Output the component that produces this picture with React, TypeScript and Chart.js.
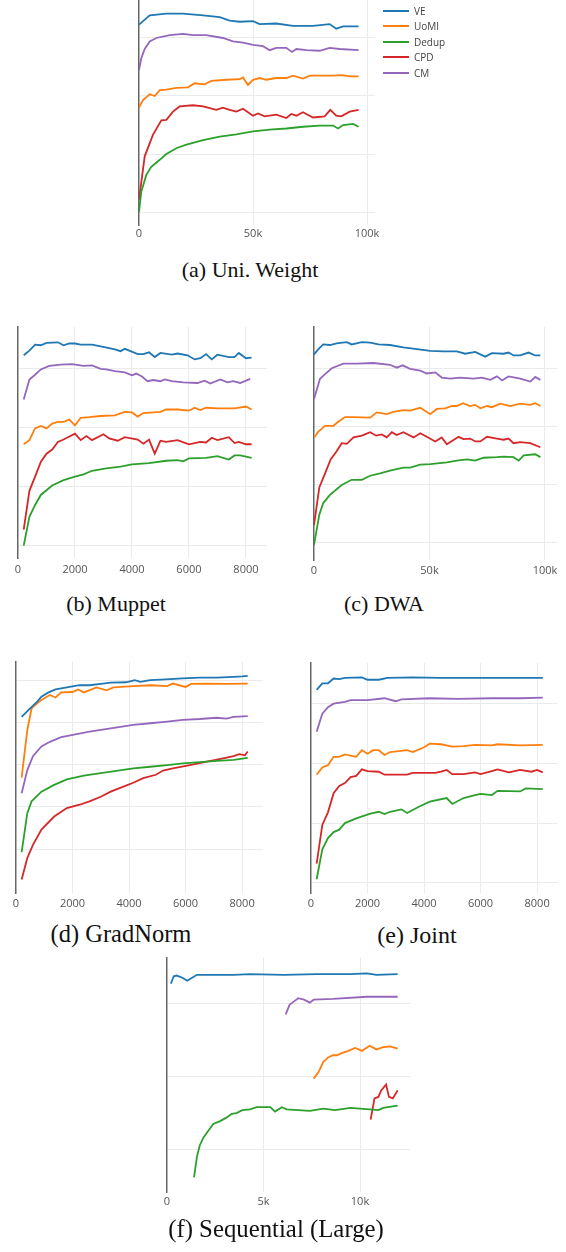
import React, { useEffect, useRef } from "react";
import { Chart, registerables } from "chart.js";

Chart.register(...registerables);

type Pt = [number, number];

const SERIES = ["VE", "UoMI", "Dedup", "CPD", "CM"];
const COLORS = ["#1f77b4", "#ff7f0e", "#2ca02c", "#d62728", "#9467bd"];

// ---------- (a) Uni. Weight ----------
const A_VE: Pt[] = [[0,3.23],[4700,3.39],[12000,3.42],[19300,3.42],[28100,3.39],[35400,3.36],[39800,3.30],[44200,3.28],[50000,3.29],[52900,3.24],[60200,3.25],[67500,3.21],[76300,3.21],[83600,3.24],[86500,3.16],[89500,3.20],[96300,3.20]];
const A_UOMI: Pt[] = [[0,1.80],[1750,1.93],[4700,2.03],[6900,2.00],[9100,2.10],[12000,2.11],[16400,2.14],[21500,2.15],[24400,2.22],[28800,2.20],[31700,2.26],[38300,2.28],[44200,2.29],[45600,2.32],[47800,2.19],[50000,2.28],[52900,2.31],[55800,2.28],[60200,2.31],[64600,2.31],[67500,2.35],[71900,2.30],[74900,2.35],[85100,2.35],[89000,2.36],[92400,2.34],[96300,2.34]];
const A_DEDUP: Pt[] = [[0,0.0],[1000,0.35],[3200,0.64],[5400,0.78],[9100,0.90],[12000,1.0],[16400,1.10],[20800,1.16],[28100,1.24],[35400,1.30],[42700,1.34],[50000,1.39],[57300,1.42],[64600,1.44],[71900,1.47],[79200,1.49],[85100,1.49],[87300,1.44],[89500,1.50],[93900,1.52],[96300,1.47]];
const A_CPD: Pt[] = [[0,0.21],[2500,0.96],[6100,1.33],[9800,1.58],[12000,1.59],[14900,1.73],[17800,1.82],[23700,1.84],[28100,1.82],[33900,1.76],[36800,1.80],[39800,1.76],[42700,1.73],[45600,1.78],[50000,1.66],[52200,1.70],[55100,1.65],[60200,1.68],[64600,1.62],[66800,1.69],[69000,1.66],[71900,1.72],[76300,1.63],[81400,1.65],[83900,1.76],[86500,1.66],[88700,1.65],[92400,1.73],[96300,1.76]];
const A_CM: Pt[] = [[0,2.45],[1000,2.65],[2500,2.81],[4700,2.94],[7600,3.00],[13500,3.05],[19300,3.07],[23700,3.05],[29500,3.05],[36800,3.00],[41200,2.94],[45600,2.92],[50000,2.88],[54400,2.86],[57300,2.79],[60200,2.83],[64600,2.83],[67100,2.76],[69000,2.81],[73400,2.79],[79200,2.78],[83600,2.83],[88000,2.81],[96300,2.79]];

// ---------- (b) Muppet ----------
const B_VE: Pt[] = [[200,3.23],[400,3.31],[600,3.41],[800,3.40],[1000,3.44],[1400,3.45],[1600,3.40],[1800,3.43],[2000,3.43],[2200,3.41],[2600,3.41],[2900,3.38],[3200,3.35],[3400,3.33],[3600,3.30],[3750,3.34],[3950,3.30],[4200,3.25],[4400,3.25],[4600,3.28],[4800,3.20],[5000,3.27],[5400,3.24],[5600,3.26],[5950,3.23],[6200,3.16],[6400,3.18],[6600,3.25],[6800,3.16],[7000,3.24],[7400,3.20],[7600,3.20],[7750,3.27],[8000,3.18],[8200,3.19]];
const B_UOMI: Pt[] = [[200,1.72],[400,1.79],[600,1.99],[800,2.03],[1000,1.99],[1200,2.07],[1400,2.10],[1600,2.10],[1800,2.14],[2000,2.04],[2200,2.17],[2500,2.18],[2900,2.20],[3400,2.21],[3750,2.27],[4000,2.26],[4200,2.19],[4400,2.25],[5000,2.27],[5200,2.31],[5600,2.31],[6000,2.29],[6200,2.34],[6400,2.30],[6600,2.34],[7000,2.33],[7600,2.33],[8000,2.36],[8200,2.31]];
const B_DEDUP: Pt[] = [[200,0.0],[400,0.49],[600,0.69],[800,0.86],[1200,1.02],[1600,1.11],[2000,1.17],[2300,1.21],[2600,1.27],[3100,1.31],[3600,1.34],[4000,1.38],[4600,1.40],[5200,1.44],[5600,1.45],[5800,1.43],[6000,1.48],[6600,1.49],[7000,1.52],[7400,1.46],[7600,1.53],[7800,1.53],[8200,1.49]];
const B_CPD: Pt[] = [[200,0.27],[400,0.93],[600,1.17],[800,1.42],[1000,1.56],[1200,1.63],[1400,1.76],[1600,1.80],[2000,1.90],[2200,1.79],[2400,1.86],[2600,1.79],[3000,1.89],[3200,1.82],[3500,1.78],[3750,1.84],[4200,1.80],[4400,1.73],[4600,1.80],[4800,1.56],[5000,1.78],[5200,1.76],[5600,1.79],[6000,1.72],[6400,1.76],[6600,1.75],[6800,1.83],[7000,1.79],[7400,1.84],[7600,1.74],[7750,1.76],[8000,1.72],[8200,1.72]];
const B_CM: Pt[] = [[200,2.48],[400,2.82],[600,2.90],[800,2.99],[1100,3.05],[1500,3.07],[1900,3.08],[2300,3.05],[2600,3.06],[2900,3.00],[3100,2.99],[3400,2.96],[3750,2.94],[4000,2.89],[4150,2.92],[4350,2.87],[4550,2.79],[4750,2.81],[5000,2.79],[5150,2.82],[5400,2.79],[5800,2.77],[6300,2.76],[6550,2.80],[6750,2.75],[7100,2.82],[7350,2.77],[7550,2.79],[7800,2.76],[8150,2.83]];

// ---------- (c) DWA ----------
const C_VE: Pt[] = [[0,3.24],[1900,3.33],[4000,3.41],[6900,3.40],[9800,3.43],[14200,3.45],[16300,3.41],[20700,3.45],[24300,3.44],[27900,3.41],[32900,3.40],[38700,3.36],[44500,3.33],[50300,3.30],[56100,3.29],[61800,3.29],[65500,3.25],[69800,3.28],[74100,3.20],[77000,3.26],[82100,3.25],[84200,3.27],[86400,3.22],[89300,3.22],[92900,3.27],[95800,3.22],[98000,3.22]];
const C_UOMI: Pt[] = [[0,1.81],[1900,1.91],[4800,2.01],[8400,2.01],[10500,2.08],[13400,2.16],[17100,2.16],[24300,2.15],[27200,2.24],[31500,2.21],[34400,2.25],[38700,2.28],[41600,2.27],[46000,2.32],[50300,2.21],[53200,2.30],[56800,2.31],[59700,2.35],[61800,2.35],[64500,2.40],[67600,2.35],[69800,2.37],[72000,2.31],[74900,2.35],[77000,2.33],[80600,2.39],[85000,2.35],[89300,2.39],[93600,2.37],[95800,2.40],[98000,2.35]];
const C_DEDUP: Pt[] = [[0,-0.04],[2300,0.48],[4000,0.68],[6900,0.82],[12000,0.99],[16300,1.08],[20700,1.08],[24300,1.15],[28600,1.19],[32900,1.24],[38700,1.29],[41600,1.29],[46000,1.34],[50300,1.35],[57500,1.38],[61800,1.41],[66200,1.43],[69800,1.41],[73400,1.46],[79200,1.47],[82100,1.48],[86400,1.47],[88600,1.41],[90800,1.50],[95800,1.52],[98000,1.47]];
const C_CPD: Pt[] = [[0,0.30],[2300,0.95],[4800,1.19],[7200,1.43],[9800,1.57],[12000,1.71],[14200,1.70],[17100,1.81],[20700,1.84],[24300,1.90],[26900,1.84],[29300,1.86],[31500,1.81],[33700,1.90],[35800,1.85],[38700,1.90],[43100,1.81],[46000,1.88],[48800,1.82],[52500,1.74],[55300,1.81],[57500,1.69],[62600,1.82],[64700,1.78],[67600,1.79],[69800,1.74],[72000,1.74],[74900,1.82],[79200,1.79],[82100,1.77],[84200,1.79],[86400,1.71],[89300,1.73],[93600,1.71],[98000,1.64]];
const C_CM: Pt[] = [[0,2.47],[2600,2.82],[4800,2.90],[7700,3.00],[12700,3.08],[18500,3.08],[25700,3.09],[32900,3.06],[35800,3.01],[38400,3.05],[41600,2.99],[46000,2.96],[48800,2.91],[52500,2.93],[55300,2.84],[59000,2.82],[63300,2.84],[69100,2.82],[72700,2.84],[76300,2.80],[79200,2.86],[81400,2.79],[84200,2.86],[89300,2.82],[93600,2.77],[95800,2.85],[98000,2.80]];

// ---------- (d) GradNorm ----------
const D_VE: Pt[] = [[200,3.13],[500,3.33],[750,3.49],[900,3.61],[1150,3.71],[1400,3.78],[1800,3.83],[2250,3.88],[2600,3.88],[3000,3.91],[3350,3.94],[3900,3.95],[4200,4.00],[4400,3.96],[4750,4.00],[5300,4.02],[5900,4.04],[6500,4.06],[7100,4.06],[7700,4.08],[8000,4.09],[8200,4.10]];
const D_UOMI: Pt[] = [[200,1.69],[400,2.82],[550,3.33],[750,3.45],[900,3.53],[1200,3.65],[1400,3.59],[1600,3.71],[2000,3.72],[2200,3.78],[2400,3.71],[2850,3.83],[3200,3.76],[3450,3.83],[4150,3.86],[4750,3.88],[5350,3.86],[5550,3.92],[6000,3.84],[6200,3.91],[6750,3.92],[7450,3.91],[8200,3.92]];
const D_DEDUP: Pt[] = [[200,-0.07],[400,0.85],[550,1.13],[900,1.36],[1350,1.52],[1800,1.65],[2400,1.74],[3000,1.80],[3550,1.85],[4150,1.91],[4750,1.95],[5350,1.99],[5900,2.03],[6500,2.06],[7100,2.09],[7700,2.11],[8200,2.16]];
const D_CPD: Pt[] = [[200,-0.72],[400,-0.21],[600,0.10],[900,0.46],[1350,0.77],[1800,0.97],[2250,1.05],[2600,1.13],[3000,1.24],[3350,1.36],[3800,1.48],[4150,1.57],[4500,1.68],[4950,1.76],[5200,1.86],[5550,1.91],[6150,1.99],[6750,2.07],[7200,2.13],[7700,2.20],[7900,2.25],[8100,2.22],[8200,2.31]];
const D_CM: Pt[] = [[200,1.32],[400,1.87],[600,2.20],[900,2.43],[1200,2.54],[1600,2.65],[2150,2.72],[2600,2.78],[3350,2.86],[4150,2.94],[4750,2.98],[5350,3.02],[5900,3.06],[6500,3.08],[7100,3.11],[7450,3.09],[7700,3.13],[8200,3.15]];

// ---------- (e) Joint ----------
const E_VE: Pt[] = [[200,3.23],[400,3.34],[600,3.34],[800,3.42],[1000,3.41],[1200,3.43],[1800,3.44],[2000,3.40],[2400,3.40],[2700,3.43],[3600,3.44],[4600,3.43],[6300,3.43],[7500,3.43],[8200,3.43]];
const E_UOMI: Pt[] = [[200,1.81],[400,1.93],[600,1.97],[800,2.11],[1000,2.11],[1200,2.15],[1600,2.11],[1800,2.22],[2000,2.16],[2200,2.22],[2400,2.22],[2600,2.14],[2800,2.19],[3400,2.22],[3600,2.19],[4000,2.27],[4200,2.33],[4600,2.32],[5000,2.28],[5400,2.29],[5800,2.31],[6400,2.30],[6600,2.32],[7400,2.30],[8200,2.31]];
const E_DEDUP: Pt[] = [[200,0.06],[400,0.56],[600,0.75],[800,0.85],[1000,0.89],[1200,1.00],[1600,1.08],[2100,1.16],[2400,1.19],[2600,1.15],[2800,1.19],[3200,1.23],[3400,1.17],[3800,1.27],[4200,1.36],[4800,1.42],[5000,1.32],[5400,1.42],[5800,1.47],[6000,1.49],[6400,1.47],[6600,1.54],[7400,1.53],[7600,1.58],[8200,1.57]];
const E_CPD: Pt[] = [[200,0.32],[400,0.97],[600,1.18],[800,1.50],[1000,1.62],[1200,1.67],[1400,1.77],[1600,1.79],[1800,1.90],[2000,1.87],[2400,1.86],[2600,1.81],[3400,1.81],[3600,1.84],[4400,1.84],[4600,1.86],[4800,1.89],[5000,1.82],[5400,1.82],[5800,1.85],[6000,1.82],[6400,1.87],[6600,1.90],[7000,1.85],[7400,1.89],[7800,1.86],[8000,1.89],[8200,1.85]];
const E_CM: Pt[] = [[200,2.53],[400,2.83],[600,2.94],[800,3.00],[1200,3.03],[1400,3.06],[2000,3.06],[2600,3.09],[3000,3.04],[3200,3.07],[4200,3.09],[5200,3.08],[6400,3.09],[7400,3.09],[8200,3.10]];

// ---------- (f) Sequential (Large) ----------
const F_VE: Pt[] = [[200,2.27],[350,2.37],[500,2.38],[800,2.35],[1050,2.31],[1300,2.35],[1550,2.39],[2600,2.39],[3450,2.39],[4300,2.40],[6050,2.39],[7750,2.40],[9500,2.40],[10350,2.41],[10850,2.39],[11950,2.40]];
const F_UOMI: Pt[] = [[7600,0.97],[7850,1.06],[8100,1.20],[8350,1.26],[8600,1.29],[8800,1.29],[9050,1.32],[9400,1.35],[9750,1.39],[10100,1.35],[10500,1.42],[10850,1.37],[11200,1.40],[11550,1.41],[11950,1.38]];
const F_DEDUP: Pt[] = [[1400,-0.38],[1550,-0.10],[1700,0.06],[1900,0.17],[2150,0.26],[2400,0.35],[2750,0.39],[3100,0.44],[3350,0.49],[3600,0.50],[3900,0.54],[4300,0.55],[4650,0.58],[5350,0.58],[5600,0.52],[5950,0.58],[6200,0.55],[7400,0.53],[8100,0.56],[8700,0.54],[9500,0.57],[10500,0.55],[10950,0.54],[11200,0.57],[11950,0.60]];
const F_CPD: Pt[] = [[10550,0.41],[10750,0.70],[10950,0.72],[11100,0.81],[11350,0.89],[11500,0.72],[11700,0.70],[11950,0.81]];
const F_CM: Pt[] = [[6150,1.85],[6350,1.98],[6550,2.02],[6800,2.07],[7100,2.05],[7400,2.01],[7600,2.05],[8600,2.06],[10350,2.09],[11950,2.09]];

// tick values
const TICKS_100K = [0, 50000, 100000];
const TICKS_8000 = [0, 2000, 4000, 6000, 8000];
const TICKS_10K = [0, 5000, 10000];

const fmtK = (v: number) => (v === 0 ? "0" : `${v / 1000}k`);
const fmtPlain = (v: number) => String(v);

interface PanelCfg {
  caption: string;
  cx: number;
  baseline: number;
  capSize: number;
  area: [number, number, number, number];
  xMax: number;
  yMin: number;
  yMax: number;
  grid: number[];
  xTicks: number[];
  fmt: (v: number) => string;
  tickPad: number;
  series: Pt[][];
}

const PANELS: PanelCfg[] = [
  { caption: "(a) Uni. Weight", cx: 250, baseline: 277, capSize: 22, area: [139, 0, 375, 225], xMax: 103500, yMin: -0.224, yMax: 3.655, grid: [0, 1, 2, 3], xTicks: TICKS_100K, fmt: fmtK, tickPad: 2, series: [A_VE, A_UOMI, A_DEDUP, A_CPD, A_CM] },
  { caption: "(b) Muppet", cx: 116, baseline: 611, capSize: 22, area: [18, 327, 267, 558], xMax: 8740, yMin: -0.21, yMax: 3.71, grid: [0, 1, 2, 3], xTicks: TICKS_8000, fmt: fmtPlain, tickPad: 5, series: [B_VE, B_UOMI, B_DEDUP, B_CPD, B_CM] },
  { caption: "(c) DWA", cx: 384, baseline: 611, capSize: 22, area: [314, 327, 557, 560], xMax: 105200, yMin: -0.30, yMax: 3.71, grid: [0, 1, 2, 3], xTicks: TICKS_100K, fmt: fmtK, tickPad: 4, series: [C_VE, C_UOMI, C_DEDUP, C_CPD, C_CM] },
  { caption: "(d) GradNorm", cx: 121, baseline: 943, capSize: 24.5, area: [16, 662, 263, 893], xMax: 8740, yMin: -1.04, yMax: 4.43, grid: [0, 1, 2, 3, 4], xTicks: TICKS_8000, fmt: fmtPlain, tickPad: 4, series: [D_VE, D_UOMI, D_DEDUP, D_CPD, D_CM] },
  { caption: "(e) Joint", cx: 417, baseline: 943, capSize: 24, area: [311, 663, 558, 893], xMax: 8740, yMin: -0.17, yMax: 3.68, grid: [0, 1, 2, 3], xTicks: TICKS_8000, fmt: fmtPlain, tickPad: 4, series: [E_VE, E_UOMI, E_DEDUP, E_CPD, E_CM] },
  { caption: "(f) Sequential (Large)", cx: 276, baseline: 1238, capSize: 24.8, area: [167, 958, 410, 1192], xMax: 12590, yMin: -0.58, yMax: 2.62, grid: [0, 1, 2], xTicks: TICKS_10K, fmt: fmtK, tickPad: 3, series: [F_VE, F_UOMI, F_DEDUP, F_CPD, F_CM] },
];

const GRID = "#ebebeb";

function Panel({ cfg }: { cfg: PanelCfg }) {
  const ref = useRef<HTMLCanvasElement>(null);
  const [l, t, r, b] = cfg.area;
  const padL = 14;
  const padR = 18;
  const padT = t > 0 ? 4 : 0;
  const axisH = 24;
  const w = r - l + padL + padR;
  const h = b - t + padT + axisH;

  useEffect(() => {
    if (!ref.current) return;
    const chart = new Chart(ref.current, {
      type: "line",
      data: {
        datasets: cfg.series.map((s, i) => ({
          label: SERIES[i],
          data: s.map(([x, y]) => ({ x, y })),
          borderColor: COLORS[i],
          backgroundColor: COLORS[i],
          borderWidth: 1.8,
          pointRadius: 0,
          tension: 0,
          fill: false,
        })),
      },
      options: {
        animation: false,
        responsive: false,
        events: [],
        layout: { padding: { left: padL, right: padR, top: padT, bottom: 0 } },
        plugins: { legend: { display: false }, tooltip: { enabled: false } },
        scales: {
          x: {
            type: "linear",
            position: "bottom",
            min: 0,
            max: cfg.xMax,
            afterFit: (s: any) => { s.height = axisH; },
            afterBuildTicks: (s: any) => { s.ticks = cfg.xTicks.map((v) => ({ value: v })); },
            ticks: {
              callback: (v: any) => cfg.fmt(Number(v)),
              font: { family: '"Open Sans", sans-serif', size: 11 },
              color: "#555",
              padding: cfg.tickPad,
              autoSkip: false,
              maxRotation: 0,
            },
            grid: {
              color: (c: any) => (c.tick && c.tick.value === 0 ? "rgba(0,0,0,0)" : GRID),
              drawTicks: false,
              lineWidth: 1,
            },
            border: { display: false },
          },
          y: {
            type: "linear",
            min: cfg.yMin,
            max: cfg.yMax,
            afterFit: (s: any) => { s.width = 0; },
            afterBuildTicks: (s: any) => { s.ticks = cfg.grid.map((v) => ({ value: v })); },
            ticks: { display: false },
            grid: { color: GRID, drawTicks: false, lineWidth: 1 },
            border: { display: true, color: "#666", width: 1.5 },
          },
        },
      } as any,
    });
    return () => chart.destroy();
  }, []);

  return (
    <canvas
      ref={ref}
      width={w}
      height={h}
      style={{ position: "absolute", left: l - padL, top: t - padT, width: w, height: h }}
    />
  );
}

function Caption({ cfg }: { cfg: PanelCfg }) {
  const fs = cfg.capSize;
  return (
    <div
      style={{
        position: "absolute",
        left: cfg.cx - 200,
        width: 400,
        top: cfg.baseline - 0.8375 * fs,
        textAlign: "center",
        fontFamily: '"Liberation Serif", "Times New Roman", serif',
        fontSize: fs,
        lineHeight: `${fs}px`,
        color: "#111",
        whiteSpace: "nowrap",
      }}
    >
      {cfg.caption}
    </div>
  );
}

const LEGEND_Y = [10.7, 26, 41.7, 57, 72.7];

function Legend() {
  return (
    <>
      {SERIES.map((name, i) => (
        <div
          key={name}
          style={{
            position: "absolute",
            left: 383,
            top: LEGEND_Y[i] - 7,
            height: 14,
            display: "flex",
            alignItems: "center",
            fontFamily: '"Open Sans", sans-serif',
            fontSize: 10,
            color: "#444",
            whiteSpace: "nowrap",
          }}
        >
          <div style={{ width: 26, height: 2, background: COLORS[i], marginRight: 5 }} />
          <span>{name}</span>
        </div>
      ))}
    </>
  );
}

export default function App() {
  return (
    <div
      style={{
        position: "absolute",
        left: 0,
        top: 0,
        width: 566,
        height: 1252,
        overflow: "hidden",
        background: "#fff",
      }}
    >
      {PANELS.map((p, i) => (
        <Panel key={i} cfg={p} />
      ))}
      {PANELS.map((p, i) => (
        <Caption key={"c" + i} cfg={p} />
      ))}
      <Legend />
    </div>
  );
}
